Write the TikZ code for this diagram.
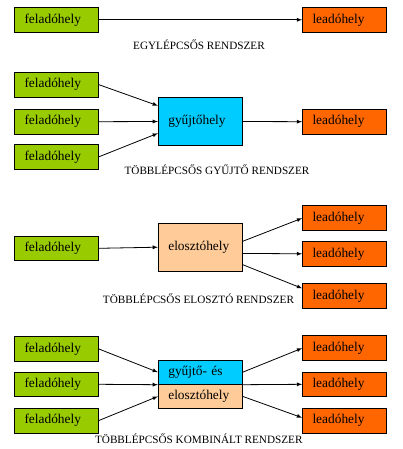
\documentclass[tikz,border=0pt]{standalone}
\usepackage{fontspec}
\setmainfont{Liberation Serif}
\newfontfamily\dobozfont{Liberation Serif}
\definecolor{feladozold}{HTML}{99CC00}
\definecolor{leadonarancs}{HTML}{FF6600}
\definecolor{gyujtokek}{HTML}{00CCFF}
\definecolor{elosztobarack}{HTML}{FFCC99}
\tikzset{
  doboz/.style={draw, line width=0.8pt, inner xsep=10pt, inner ysep=0pt,
    text width=64pt, align=left, minimum height=#1,
    font=\dobozfont\fontsize{13.4}{15}\selectfont},
  doboz/.default=24.8pt,
  felirat/.style={font=\dobozfont\fontsize{11.2}{13}\selectfont},
  nyil/.style={-latex, line width=0.8pt}
}
\begin{document}
\begin{tikzpicture}[x=1pt,y=1pt]
    \useasboundingbox (0,0) rectangle (402,-449);

    %egylepcsos
    \node[doboz, fill=feladozold] (f0) at (56.5,-19.8) {feladóhely};
    \node[doboz, fill=leadonarancs] (l0) at (344.5,-19.8) {leadóhely};
    \node[felirat] (t0) at (199,-45) {EGYLÉPCSŐS RENDSZER};
    \draw [nyil](f0.east) -- (l0.west);

    %gyujto
    \foreach \n/\y in {f1/-84.7, f2/-121.7, f3/-156.8}
        \node[doboz, fill=feladozold] (\n) at (56.5,\y) {feladóhely};
    \node[doboz=48.4pt, fill=gyujtokek] (gy) at (200.3,-121.5) {gyűjtőhely};
    \node[doboz, fill=leadonarancs] (l1) at (344.5,-121.7) {leadóhely};
    \node[felirat] (t1) at (217,-170) {TÖBBLÉPCSŐS GYŰJTŐ RENDSZER};
    \draw [nyil](f1.east) -- ([yshift=15.8pt]gy.west);
    \draw [nyil](f2.east) -- (gy.west);
    \draw [nyil](f3.east) -- ([yshift=-11.8pt]gy.west);
    \draw [nyil](gy.east) -- (l1.west);

    %eloszto
    \node[doboz, fill=feladozold] (f4) at (56.5,-248.3) {feladóhely};
    \node[doboz=47.7pt, fill=elosztobarack] (el) at (200.3,-247.2) {elosztóhely};
    \foreach \n/\y in {l2/-218.2, l3/-253.8, l4/-296}
        \node[doboz, fill=leadonarancs] (\n) at (344.5,\y) {leadóhely};
    \node[felirat] (t2) at (198.5,-298.3) {TÖBBLÉPCSŐS ELOSZTÓ RENDSZER};
    \draw [nyil](f4.east) -- (el.west);
    \draw [nyil]([yshift=5.9pt]el.east) -- (l2.west);
    \draw [nyil]([yshift=-6.2pt]el.east) -- (l3.west);
    \draw [nyil]([yshift=-17.5pt]el.east) -- ([yshift=7.7pt]l4.west);

    %kombinalt
    \foreach \n/\y in {f5/-349, f6/-384.3, f7/-420.5}
        \node[doboz, fill=feladozold] (\n) at (56.5,\y) {feladóhely};
    \foreach \n/\y in {l5/-348.2, l6/-384.3, l7/-420.5}
        \node[doboz, fill=leadonarancs] (\n) at (344.5,\y) {leadóhely};
    \node[doboz=24.2pt, fill=gyujtokek] (ge) at (200.3,-372.2) {gyűjtő- és};
    \node[doboz=24.2pt, fill=elosztobarack] (eh) at (200.3,-396.4) {elosztóhely};
    \node[felirat] (t3) at (198.8,-439) {TÖBBLÉPCSŐS KOMBINÁLT RENDSZER};
    \draw [nyil](f5.east) -- (ge.west);
    \draw [nyil](f6.east) -- (ge.south west);
    \draw [nyil](f7.east) -- (eh.west);
    \draw [nyil](ge.east) -- (l5.west);
    \draw [nyil](ge.south east) -- (l6.west);
    \draw [nyil](eh.east) -- ([yshift=2.8pt]l7.west);
\end{tikzpicture}
\end{document}
